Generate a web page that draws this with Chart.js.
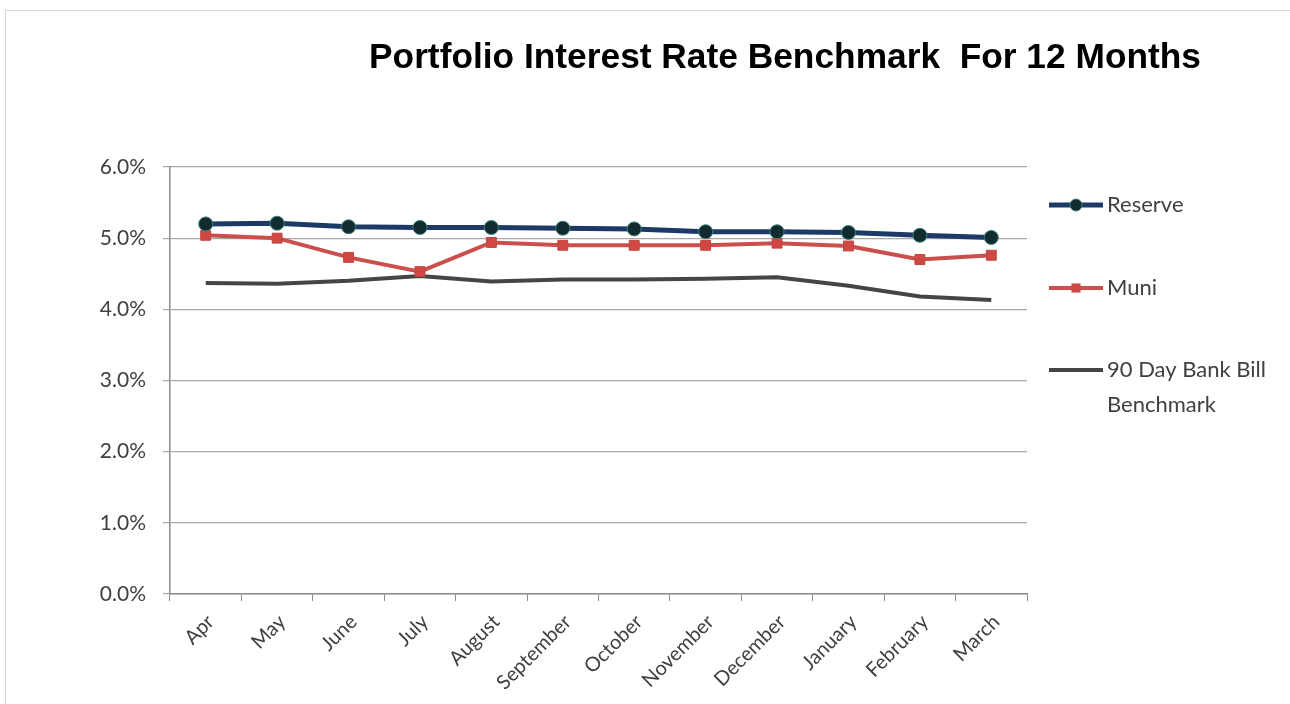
<!DOCTYPE html>
<html>
<head>
<meta charset="utf-8">
<script src="https://cdn.jsdelivr.net/npm/chart.js@4.4.0/dist/chart.umd.min.js"></script>
<style>
  html, body { margin: 0; padding: 0; background: #fff; }
  #wrap { position: relative; width: 1290px; height: 704px; }
</style>
</head>
<body>
<div id="wrap"><canvas id="rateChart" width="1290" height="704"></canvas></div>
<script>
// monthly rates, in percent
const months = ["Apr", "May", "June", "July", "August", "September", "October",
  "November", "December", "January", "February", "March"];
const reserve = [5.20, 5.21, 5.16, 5.15, 5.15, 5.14, 5.13, 5.09, 5.09, 5.08, 5.04, 5.01];
const muni = [5.04, 5.00, 4.73, 4.53, 4.94, 4.90, 4.90, 4.90, 4.93, 4.89, 4.70, 4.76];
const bankBill = [4.37, 4.36, 4.40, 4.47, 4.39, 4.42, 4.42, 4.43, 4.45, 4.33, 4.18, 4.13];
const seriesNames = ["Reserve", "Muni", "90 Day Bank Bill Benchmark"];
const titleText = "Portfolio Interest Rate Benchmark  For 12 Months";

const labelFont = "Lato, 'Open Sans', sans-serif";
const textColor = "#404040";

// frame + title
const frameAndTitle = {
  id: "frameAndTitle",
  beforeDraw(chart) {
    const ctx = chart.ctx;
    ctx.save();
    ctx.fillStyle = "#fff";
    ctx.fillRect(0, 0, chart.width, chart.height);
    ctx.strokeStyle = "#d6d6d6";
    ctx.lineWidth = 1;
    ctx.strokeRect(5.5, 10.5, chart.width, chart.height);
    ctx.restore();
  },
  afterDraw(chart) {
    const ctx = chart.ctx;
    ctx.save();
    ctx.font = "bold 35px 'Liberation Sans', Arial, sans-serif";
    const w = ctx.measureText(titleText).width;
    const target = 832;
    ctx.translate(785, 68);
    ctx.scale(target / w, 1);
    ctx.fillStyle = "#000";
    ctx.textAlign = "center";
    ctx.textBaseline = "alphabetic";
    ctx.fillText(titleText, 0, 0);
    ctx.restore();
  }
};

// legend to the right of the plot, text may wrap onto two lines
const sideLegend = {
  id: "sideLegend",
  afterDraw(chart) {
    const ctx = chart.ctx;
    const x0 = chart.chartArea.right + 22;
    const rows = [205, 288, 370];
    const wrapped = [["Reserve"], ["Muni"], ["90 Day Bank Bill", "Benchmark"]];
    ctx.save();
    chart.data.datasets.forEach((ds, i) => {
      const y = rows[i];
      ctx.strokeStyle = ds.borderColor;
      ctx.lineWidth = ds.borderWidth;
      ctx.beginPath();
      ctx.moveTo(x0, y);
      ctx.lineTo(x0 + 54, y);
      ctx.stroke();
      if (ds.pointRadius > 0) {
        ctx.fillStyle = ds.pointBackgroundColor;
        ctx.strokeStyle = ds.pointBorderColor;
        ctx.lineWidth = ds.pointBorderWidth;
        const cx = x0 + 27;
        if (ds.pointStyle === "rect") {
          const s = ds.pointRadius * 1.3;
          ctx.fillRect(cx - s / 2, y - s / 2, s, s);
        } else {
          ctx.beginPath();
          ctx.arc(cx, y, ds.pointRadius - 1, 0, Math.PI * 2);
          ctx.fill();
          ctx.stroke();
        }
      }
      ctx.fillStyle = textColor;
      ctx.font = "22px " + labelFont;
      ctx.textBaseline = "middle";
      ctx.textAlign = "left";
      wrapped[i].forEach((line, k) => ctx.fillText(line, x0 + 58, y + k * 35));
    });
    ctx.restore();
  }
};

new Chart(document.getElementById("rateChart"), {
  type: "line",
  data: {
    labels: months,
    datasets: [
      {
        label: seriesNames[0],
        data: reserve,
        borderColor: "#1b3a66",
        borderWidth: 5,
        pointStyle: "circle",
        pointRadius: 7,
        pointBackgroundColor: "#102c2e",
        pointBorderColor: "#3f7f7a",
        pointBorderWidth: 1,
        tension: 0
      },
      {
        label: seriesNames[1],
        data: muni,
        borderColor: "#c9504c",
        borderWidth: 4,
        pointStyle: "rect",
        pointRadius: 7,
        pointBackgroundColor: "#cf4844",
        pointBorderColor: "#c44440",
        pointBorderWidth: 1,
        tension: 0
      },
      {
        label: seriesNames[2],
        data: bankBill,
        borderColor: "#454545",
        borderWidth: 4,
        pointRadius: 0,
        tension: 0
      }
    ]
  },
  options: {
    responsive: false,
    animation: false,
    layout: { padding: { top: 167, right: 263, bottom: 0, left: 0 } },
    plugins: {
      legend: { display: false },
      title: { display: false },
      tooltip: { enabled: false }
    },
    scales: {
      x: {
        offset: true,
        grid: { offset: true, drawOnChartArea: false, tickLength: 7, color: "#8c8c8c" },
        border: { color: "#8c8c8c", width: 1.5 },
        ticks: {
          maxRotation: 45, minRotation: 45, autoSkip: false,
          padding: 9, labelOffset: 5,
          color: textColor, font: { family: labelFont, size: 20 }
        },
        afterFit(scale) { scale.height = 110; }
      },
      y: {
        min: 0, max: 6,
        grid: { color: "#a8a8a8", tickLength: 7, lineWidth: 1.2 },
        border: { color: "#8c8c8c", width: 1.5 },
        ticks: {
          stepSize: 1, padding: 17,
          color: textColor, font: { family: labelFont, size: 21 },
          callback: (v) => v.toFixed(1) + "%"
        },
        afterFit(scale) { scale.width = 170; }
      }
    }
  },
  plugins: [frameAndTitle, sideLegend]
});
</script>
</body>
</html>
